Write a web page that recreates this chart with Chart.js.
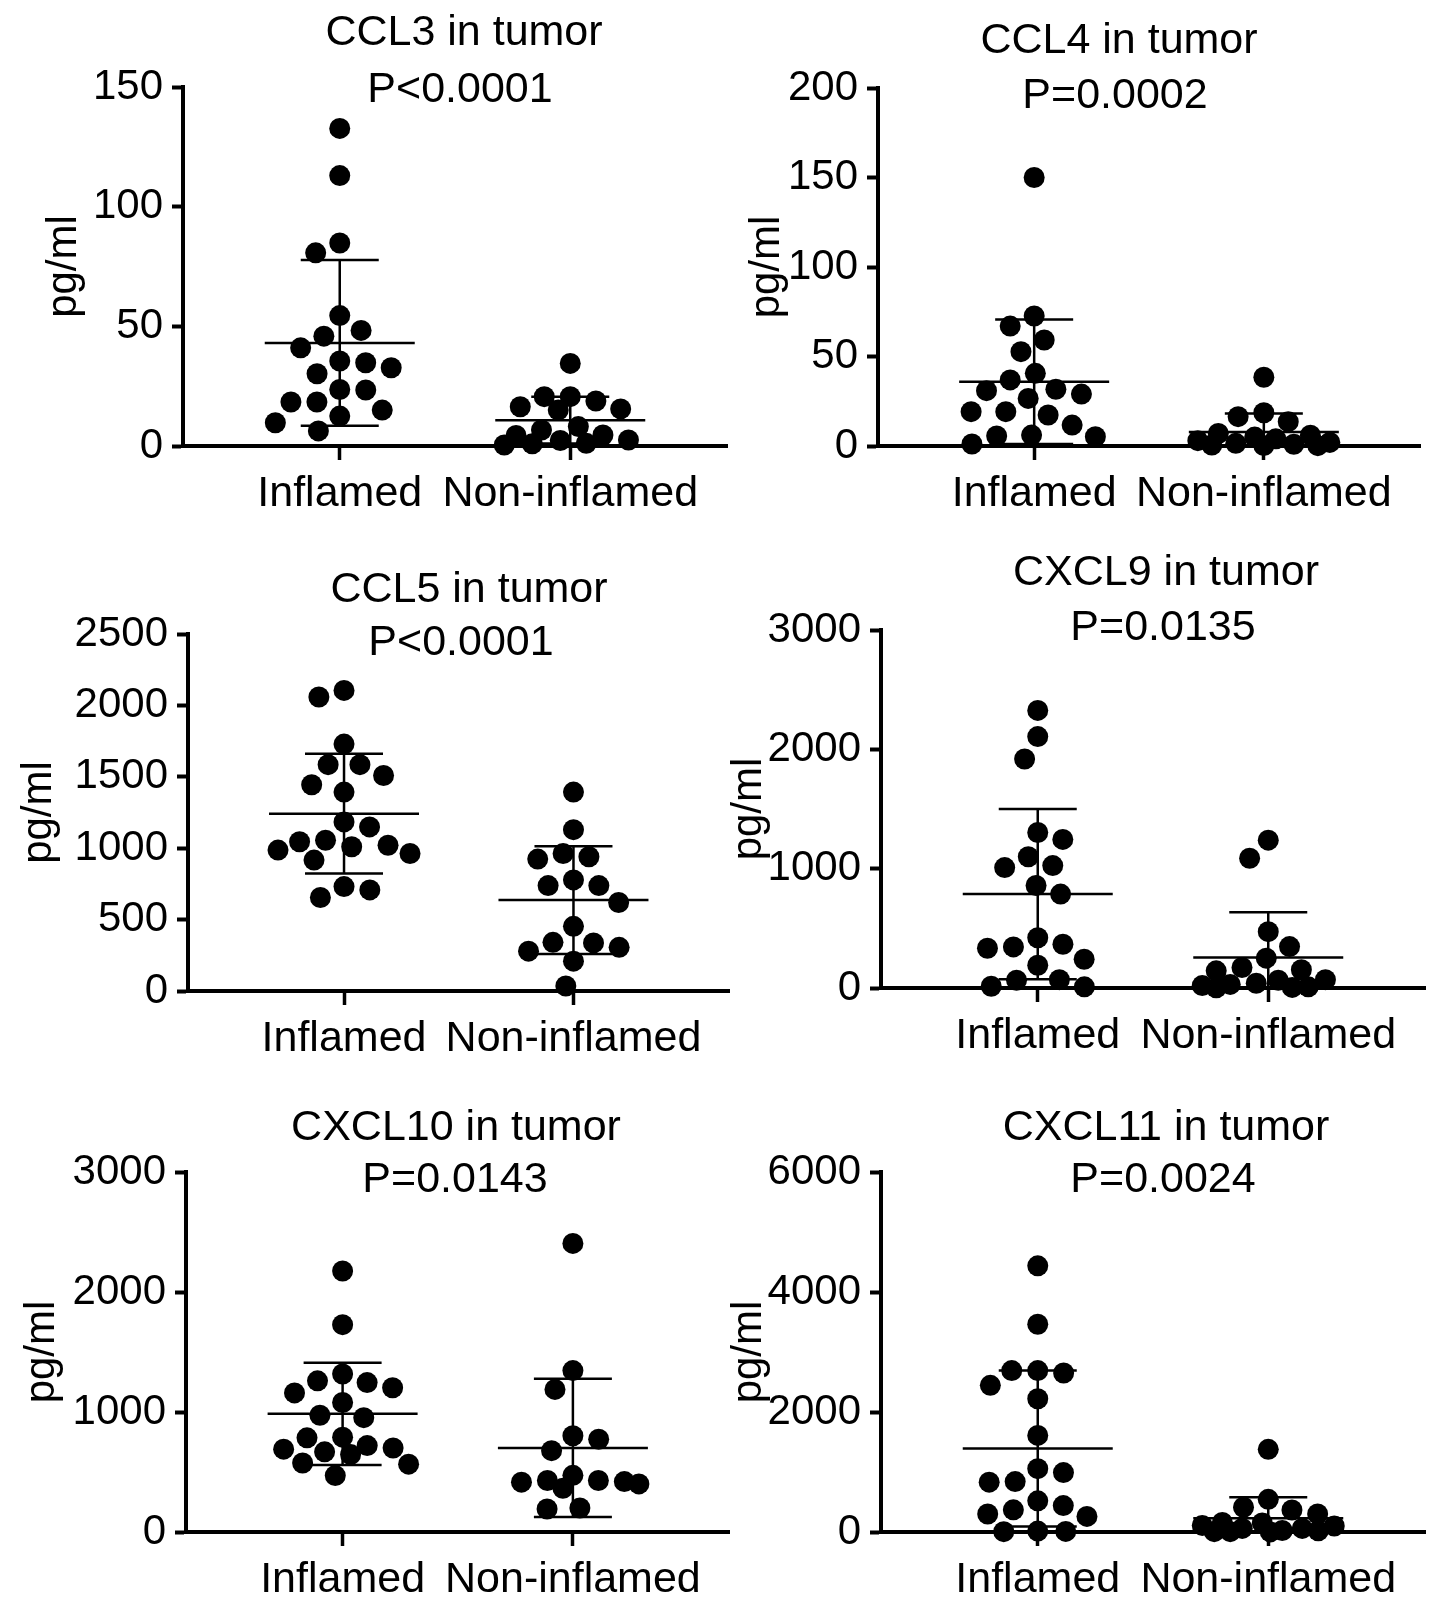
<!DOCTYPE html>
<html>
<head>
<meta charset="utf-8">
<script src="https://cdn.jsdelivr.net/npm/chart.js@4.4.1/dist/chart.umd.min.js"></script>
<style>
  body { margin: 0; background: #fff; width: 1441px; height: 1609px; position: relative; overflow: hidden; }
  canvas { position: absolute; }
</style>
</head>
<body>
<script>
// values (pg/ml)
const categories = ['Inflamed', 'Non-inflamed'];

const ccl3Inflamed = [132.7, 113, 84.8, 80.7, 54.5, 48.3, 45.9, 41, 35.5, 34.8, 32.7, 30.2, 23.6, 23.4, 18.4, 18.4, 15, 12.5, 9.7, 6.3];
const ccl3NonInflamed = [34.5, 20.6, 20.6, 18.8, 16.4, 15.5, 15, 8.1, 6.7, 4.6, 4.4, 2.5, 2.3, 1.1, 0.9, 0.4];

const ccl4Inflamed = [150, 72.6, 67, 59.2, 52.7, 40.6, 36.9, 31.7, 30.9, 29, 26.6, 19.2, 19.2, 17.3, 11.7, 6.1, 5.6, 5.2, 1.1];
const ccl4NonInflamed = [38.4, 18.6, 16.4, 13.6, 7, 6, 5, 4, 3, 2, 1.5, 1, 0.5, 0.3, 0.2];

const ccl5Inflamed = [2105, 2059, 1729, 1585, 1585, 1509, 1444, 1393, 1184, 1149, 1056, 1045, 1021, 1010, 987, 963, 917, 731, 708, 655];
const ccl5NonInflamed = [1393, 1130, 963, 940, 924, 778, 738, 738, 620, 453, 341, 337, 306, 279, 209, 35];

const cxcl9Inflamed = [2326, 2107, 1919, 1303, 1245, 1100, 1026, 1009, 859, 787, 421, 367, 344, 333, 241, 191, 70, 65, 15, 10];
const cxcl9NonInflamed = [1239, 1087, 472, 347, 250, 172, 153, 144, 70, 65, 40, 30, 20, 10, 5, 2];

const cxcl10Inflamed = [2175, 1728, 1317, 1260, 1245, 1202, 1159, 1079, 973, 953, 790, 785, 720, 700, 690, 668, 645, 575, 565, 470];
const cxcl10NonInflamed = [2405, 1345, 1188, 802, 773, 678, 472, 429, 429, 420, 415, 401, 364, 200, 192];

const cxcl11Inflamed = [4436, 3463, 2690, 2690, 2650, 2444, 2221, 1610, 1055, 990, 840, 830, 520, 440, 370, 300, 260, 15, 10, 5];
const cxcl11NonInflamed = [1378, 545, 412, 367, 300, 160, 150, 110, 100, 60, 60, 25, 20, 5, 5, 2];

const titles = ['CCL3 in tumor', 'CCL4 in tumor', 'CCL5 in tumor', 'CXCL9 in tumor', 'CXCL10 in tumor', 'CXCL11 in tumor'];
const pValues = ['P<0.0001', 'P=0.0002', 'P<0.0001', 'P=0.0135', 'P=0.0143', 'P=0.0024'];
const yMax = [150, 200, 2500, 3000, 3000, 6000];
const yStep = [50, 50, 500, 1000, 1000, 2000];
const groups = [
  [ccl3Inflamed, ccl3NonInflamed],
  [ccl4Inflamed, ccl4NonInflamed],
  [ccl5Inflamed, ccl5NonInflamed],
  [cxcl9Inflamed, cxcl9NonInflamed],
  [cxcl10Inflamed, cxcl10NonInflamed],
  [cxcl11Inflamed, cxcl11NonInflamed]
];

// page layout of each panel (canvas box, plot area, text centres)
const boxes = [
  { left: 0,   top: 0,    w: 740, h: 530, area: [183, 87, 727, 446],   yTitle: 64,  title: [464, 33],    pval: [460, 90] },
  { left: 722, top: 0,    w: 719, h: 530, area: [878, 88, 1420, 446],  yTitle: 767, title: [1119, 41],   pval: [1115, 96] },
  { left: 0,   top: 530,  w: 740, h: 535, area: [188, 634, 731, 991],  yTitle: 39,  title: [469, 590],   pval: [461, 643] },
  { left: 722, top: 530,  w: 719, h: 535, area: [881, 630, 1425, 988], yTitle: 749, title: [1166, 573],  pval: [1163, 628] },
  { left: 0,   top: 1065, w: 740, h: 544, area: [186, 1172, 733, 1532], yTitle: 42, title: [456, 1128],  pval: [455, 1180] },
  { left: 722, top: 1065, w: 719, h: 544, area: [881, 1172, 1425, 1532], yTitle: 749, title: [1166, 1128], pval: [1163, 1180] }
];

const FONT = '"Liberation Sans", Arial, Helvetica, sans-serif';
const X_AXIS_H = 70;
const DOT_R = 10.5;

function mean(a) { return a.reduce((s, v) => s + v, 0) / a.length; }
function sd(a) {
  const m = mean(a);
  return Math.sqrt(a.reduce((s, v) => s + (v - m) * (v - m), 0) / (a.length - 1));
}

// mean line + SD whiskers
const meanSdPlugin = {
  id: 'meanSd',
  afterDatasetsDraw(chart) {
    const { ctx, chartArea: ca, scales: { x, y } } = chart;
    ctx.save();
    ctx.beginPath();
    ctx.rect(ca.left, ca.top - 30, ca.right - ca.left, ca.bottom - ca.top + 30);
    ctx.clip();
    ctx.strokeStyle = '#000';
    ctx.lineWidth = 2.5;
    chart.data.datasets.forEach((ds, i) => {
      const m = mean(ds.values), s = sd(ds.values);
      const cx = x.getPixelForValue(i + 1);
      const yHi = y.getPixelForValue(m + s);
      const yLo = y.getPixelForValue(Math.max(0, m - s));
      const yM = y.getPixelForValue(m);
      ctx.beginPath();
      ctx.moveTo(cx - 75, yM); ctx.lineTo(cx + 75, yM);
      ctx.moveTo(cx, yHi); ctx.lineTo(cx, yLo);
      ctx.moveTo(cx - 39, yHi); ctx.lineTo(cx + 39, yHi);
      if (m - s >= 0) { ctx.moveTo(cx - 39, yLo); ctx.lineTo(cx + 39, yLo); }
      ctx.stroke();
    });
    ctx.restore();
  }
};

const panelTextPlugin = {
  id: 'panelText',
  afterDraw(chart, args, opts) {
    const { ctx } = chart;
    ctx.save();
    ctx.fillStyle = '#000';
    ctx.font = '43px ' + FONT;
    ctx.textAlign = 'center';
    ctx.textBaseline = 'middle';
    ctx.fillText(opts.title, opts.tx, opts.ty);
    ctx.fillText(opts.pval, opts.px, opts.py);
    ctx.restore();
  }
};

// spread dots sideways (beeswarm); when the band is full, squeeze into the least crowded slot
function swarm(chart) {
  const { x, y } = chart.scales;
  const D = 26, MAX_OFF = 66;
  chart.data.datasets.forEach((ds, i) => {
    const cx = x.getPixelForValue(i + 1);
    const placed = [];
    let side = -1;
    const order = ds.values.map((v, k) => k).sort((a, b) => ds.values[b] - ds.values[a]);
    order.forEach(k => {
      const py = y.getPixelForValue(ds.values[k]);
      const near = placed.filter(p => Math.abs(p.y - py) < D);
      const cands = [0];
      near.forEach(p => {
        const dx = Math.sqrt(D * D - (p.y - py) * (p.y - py));
        cands.push(p.x + dx, p.x - dx);
      });
      const key = c => Math.abs(c) + (Math.sign(c) === side ? 0 : 0.01);
      cands.sort((a, b) => key(a) - key(b));
      let off = cands.find(c => Math.abs(c) <= MAX_OFF &&
        near.every(p => (p.x - c) ** 2 + (p.y - py) ** 2 >= D * D - 0.5));
      if (off === undefined) {
        let best = -1;
        for (let c = -MAX_OFF; c <= MAX_OFF; c += 2) {
          const d = Math.min(...near.map(p => Math.hypot(p.x - c, p.y - py)));
          if (d > best + 0.01 || (Math.abs(d - best) <= 0.01 && Math.abs(c) < Math.abs(off))) { best = d; off = c; }
        }
      }
      if (off !== 0) side = -side;
      placed.push({ x: off, y: py });
      ds.data[k] = { x: x.getValueForPixel(cx + off), y: ds.values[k] };
    });
  });
  chart.update('none');
}

boxes.forEach((b, i) => {
  const canvas = document.createElement('canvas');
  canvas.width = b.w;
  canvas.height = b.h;
  canvas.style.left = b.left + 'px';
  canvas.style.top = b.top + 'px';
  canvas.style.width = b.w + 'px';
  canvas.style.height = b.h + 'px';
  document.body.appendChild(canvas);

  const [al, at, ar, ab] = b.area;
  const yWidth = al - b.left;
  const titlePad = Math.max(0, b.yTitle - b.left - 21);

  const chart = new Chart(canvas.getContext('2d'), {
    type: 'scatter',
    data: {
      datasets: groups[i].map((vals, g) => ({
        label: categories[g],
        values: vals,
        data: vals.map(v => ({ x: g + 1, y: v })),
        backgroundColor: '#000',
        borderColor: '#000',
        pointRadius: DOT_R,
        pointBorderWidth: 0,
        pointHoverRadius: DOT_R,
        clip: false
      }))
    },
    options: {
      responsive: false,
      animation: false,
      devicePixelRatio: 1,
      layout: {
        padding: {
          left: 0,
          top: at - b.top,
          right: b.left + b.w - ar,
          bottom: b.top + b.h - ab - X_AXIS_H
        }
      },
      plugins: {
        legend: { display: false },
        tooltip: { enabled: false },
        panelText: {
          title: titles[i], pval: pValues[i],
          tx: b.title[0] - b.left, ty: b.title[1] - b.top,
          px: b.pval[0] - b.left, py: b.pval[1] - b.top
        }
      },
      scales: {
        x: {
          type: 'linear',
          min: 0.32,
          max: 2.68,
          afterBuildTicks: s => { s.ticks = categories.map((c, k) => ({ value: k + 1 })); },
          afterFit: s => { s.height = X_AXIS_H; },
          ticks: {
            callback: (v, idx) => categories[idx],
            font: { size: 43, family: FONT },
            color: '#000',
            padding: 8,
            maxRotation: 0,
            autoSkip: false
          },
          grid: { drawOnChartArea: false, tickLength: 14, tickWidth: 3.5, tickColor: '#000' },
          border: { color: '#000', width: 4 }
        },
        y: {
          min: 0,
          max: yMax[i],
          afterFit: s => { s.width = yWidth; },
          ticks: {
            stepSize: yStep[i],
            callback: v => String(v),
            font: { size: 42, family: FONT },
            color: '#000',
            padding: 9
          },
          grid: { drawOnChartArea: false, tickLength: 11, tickWidth: 4, tickColor: '#000' },
          border: { color: '#000', width: 4 },
          title: {
            display: true,
            text: 'pg/ml',
            color: '#000',
            font: { size: 42, family: FONT, lineHeight: 1 },
            padding: { top: titlePad, bottom: 0 }
          }
        }
      }
    },
    plugins: [meanSdPlugin, panelTextPlugin]
  });
  swarm(chart);
});
</script>
</body>
</html>
